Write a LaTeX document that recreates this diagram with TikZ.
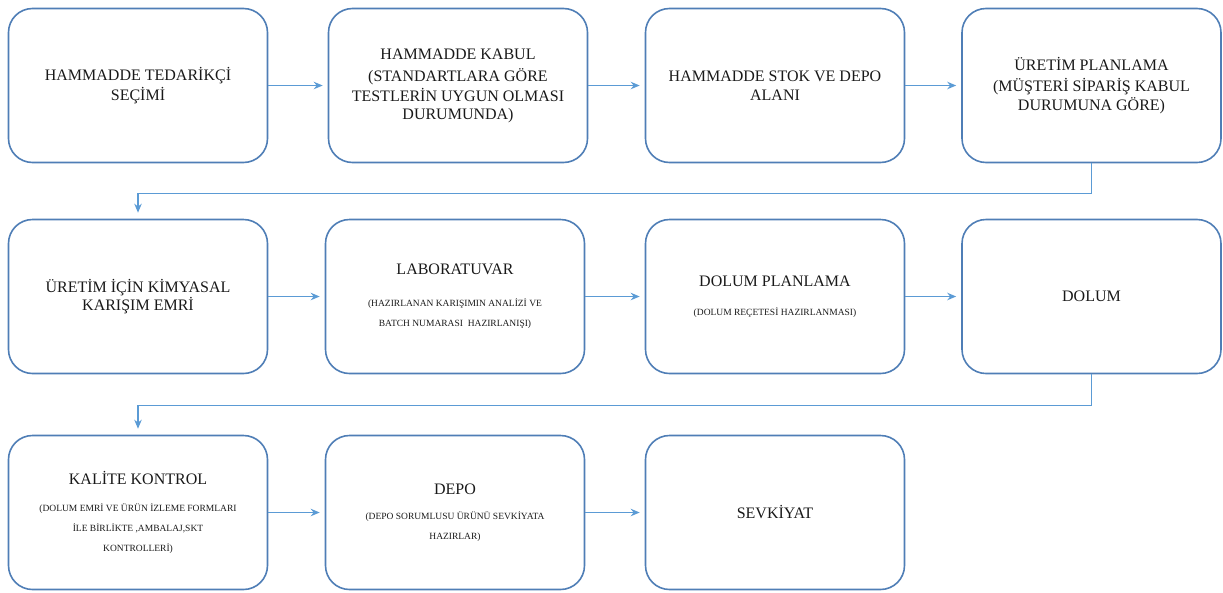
\documentclass[tikz,border=0pt]{standalone}
\usepackage{fontspec}
\setmainfont{Liberation Serif}
\newfontfamily\timesx{Liberation Serif}
\usetikzlibrary{arrows.meta}
\definecolor{boxblue}{RGB}{79,126,182}
\definecolor{arrblue}{RGB}{91,155,213}
\newcommand{\bigtxt}{\timesx\fontsize{16}{20}\selectfont}
\newcommand{\smalltxt}{\timesx\fontsize{9.5}{19}\selectfont}
\tikzset{
  procbox/.style={draw=boxblue, line width=1.6pt, rounded corners=24pt, minimum width=259pt, minimum height=154pt, align=center, inner sep=4pt, text=black!90, font=\bigtxt},
  arr/.style={draw=arrblue, line width=1.3pt, -{Stealth[length=9pt,width=7.5pt]}, shorten >=5pt},
  wrap/.style={draw=arrblue, line width=1.3pt, -{Stealth[length=9pt,width=7.5pt]}, shorten >=6pt}
}
\begin{document}
\begin{tikzpicture}[x=1pt,y=-1pt]
\useasboundingbox (0,0) rectangle (1223,592);
% row 1
\node[procbox] (a1) at (138,85.5) {HAMMADDE TEDARİKÇİ\\ SEÇİMİ};
\node[procbox] (a2) at (458,85.5) {HAMMADDE KABUL\\[2pt] (STANDARTLARA GÖRE\\ TESTLERİN UYGUN OLMASI\\[-2pt] DURUMUNDA)};
\node[procbox] (a3) at (775,85.5) {HAMMADDE STOK VE DEPO\\[-1pt] ALANI};
\node[procbox] (a4) at (1091.5,85.5) {ÜRETİM PLANLAMA\\[1pt] (MÜŞTERİ SİPARİŞ KABUL\\[-1pt] DURUMUNA GÖRE)};
% row 2
\node[procbox] (b1) at (138,296.5) {ÜRETİM İÇİN KİMYASAL\\[-2pt] KARIŞIM EMRİ};
\node[procbox] (b2) at (455,296.5) {LABORATUVAR\\[12pt] \smalltxt (HAZIRLANAN KARIŞIMIN ANALİZİ VE\\ \smalltxt BATCH NUMARASI\ \ HAZIRLANIŞI)};
\node[procbox] (b3) at (775,296.5) {DOLUM PLANLAMA\\[9pt] \smalltxt (DOLUM REÇETESİ HAZIRLANMASI)};
\node[procbox] (b4) at (1091.5,296.5) {DOLUM};
% row 3
\node[procbox] (c1) at (138,512.5) {KALİTE KONTROL\\[7pt] \smalltxt (DOLUM EMRİ VE ÜRÜN İZLEME FORMLARI\\ \smalltxt İLE BİRLİKTE ,AMBALAJ,SKT\\ \smalltxt KONTROLLERİ)};
\node[procbox] (c2) at (455,512.5) {DEPO\\[5pt] \smalltxt (DEPO SORUMLUSU ÜRÜNÜ SEVKİYATA\\ \smalltxt HAZIRLAR)};
\node[procbox] (c3) at (775,512.5) {SEVKİYAT};
% connectors
\draw[arr] (a1) -- (a2);
\draw[arr] (a2) -- (a3);
\draw[arr] (a3) -- (a4);
\draw[wrap] (a4.south) -- ++(0,30) -| (b1.north);
\draw[arr] (b1) -- (b2);
\draw[arr] (b2) -- (b3);
\draw[arr] (b3) -- (b4);
\draw[wrap] (b4.south) -- ++(0,31) -| (c1.north);
\draw[arr] (c1) -- (c2);
\draw[arr] (c2) -- (c3);
\end{tikzpicture}
\end{document}
